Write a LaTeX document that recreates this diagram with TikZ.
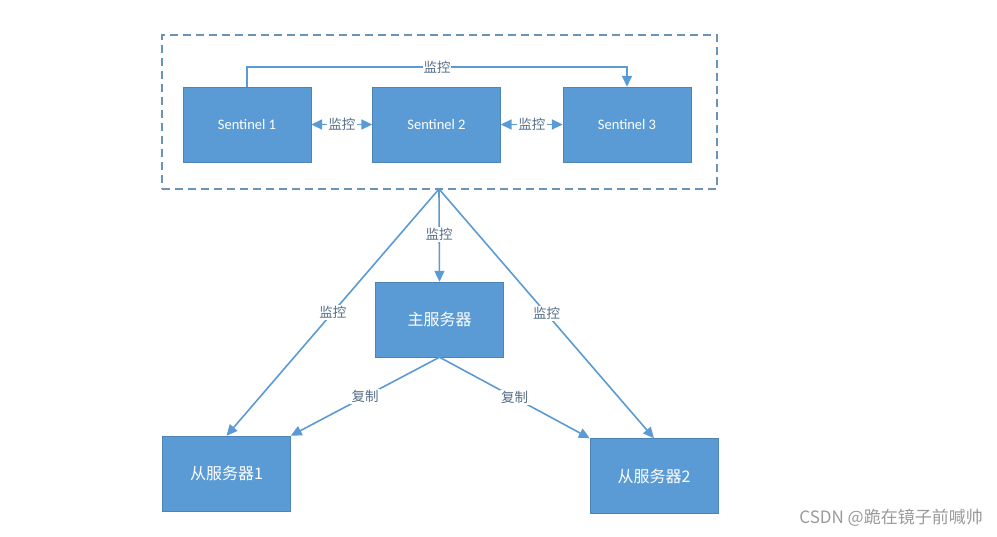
\documentclass[tikz,border=0pt]{standalone}
\usepackage{fontspec}
\setmainfont{Carlito}
\newfontfamily\cjk{Noto Sans CJK SC}
\usetikzlibrary{arrows.meta}
\definecolor{boxblue}{HTML}{5B9BD5}
\definecolor{lineblue}{HTML}{5B9BD5}
\definecolor{dashblue}{HTML}{6A93B8}
\definecolor{lbl}{HTML}{566E88}
\definecolor{wm}{HTML}{9A9A9A}
\tikzset{
  srv/.style={draw=boxblue!85!black, line width=0.4pt, fill=boxblue, text=white, minimum width=128pt, minimum height=75pt, inner sep=0pt},
  conn/.style={draw=lineblue, line width=1.6pt, -{Triangle[length=11pt,width=10pt]}},
  biconn/.style={draw=lineblue, line width=1.6pt, {Triangle[length=11pt,width=10pt]}-{Triangle[length=11pt,width=10pt]}},
  lab/.style={fill=white, text=lbl, inner sep=1.5pt, font=\cjk\fontsize{13.5}{15}\selectfont},
  group/.style={draw=dashblue, line width=1.6pt, dash pattern=on 8pt off 5pt, minimum width=555pt, minimum height=154pt, inner sep=0pt}
}
\begin{document}
\begin{tikzpicture}[x=1pt,y=-1pt]
\useasboundingbox (0,0) rectangle (997,537);
\node[group] (grp) at (439.5,112) {};
\node[srv, font=\fontsize{14.5}{16}\selectfont] (s1) at (247,124.5) {Sentinel 1};
\node[srv, font=\fontsize{14.5}{16}\selectfont] (s2) at (436.5,124.5) {Sentinel 2};
\node[srv, font=\fontsize{14.5}{16}\selectfont] (s3) at (627,124.5) {Sentinel 3};
\node[srv, font=\cjk\fontsize{16}{18}\selectfont] (m) at (439.5,319.5) {主服务器};
\node[srv, font=\cjk\fontsize{16}{18}\selectfont] (sl1) at (226.5,473.5) {从服务器1};
\node[srv, font=\cjk\fontsize{16}{18}\selectfont] (sl2) at (654,476) {从服务器2};
\coordinate (apex) at (439,189);
\coordinate (topl) at (247,67);
\coordinate (topr) at (627,67);
% sentinel links
\draw[conn] (s1.north) -- (topl) -- node[lab, inner sep=0.5pt] {监控} (topr) -- (s3.north);
\draw[biconn] (s1.east) -- node[lab] {监控} (s2.west);
\draw[biconn] (s2.east) -- node[lab] {监控} (s3.west);
% monitoring
\draw[conn] (apex) -- node[lab, pos=0.49] {监控} (m.north);
\draw[conn] (apex) -- node[lab, pos=0.5] {监控} (sl1.north);
\draw[conn] (apex) -- node[lab, pos=0.5] {监控} (sl2.north);
% replication
\draw[conn] (m.south) -- node[lab, pos=0.5] {复制} (sl1.north east);
\draw[conn] (m.south) -- node[lab, pos=0.5] {复制} (sl2.north west);
% watermark
\node[text=wm, font=\cjk\fontsize{17}{19}\selectfont, anchor=east, inner sep=0pt] (wmark) at (983,518) {CSDN @跪在镜子前喊帅};
\end{tikzpicture}
\end{document}
